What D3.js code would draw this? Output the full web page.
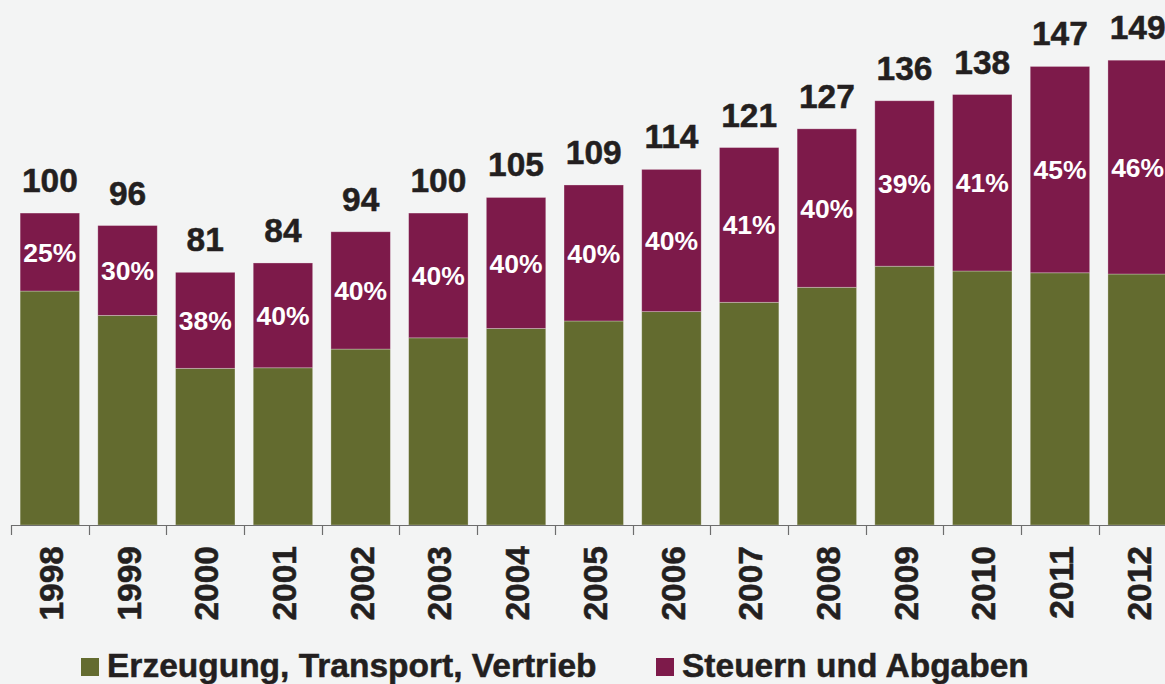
<!DOCTYPE html>
<html>
<head>
<meta charset="utf-8">
<script src="https://cdn.jsdelivr.net/npm/d3@7.9.0/dist/d3.min.js"></script>
<style>
  html, body { margin: 0; padding: 0; background: #f3f4f4; }
  svg { display: block; font-family: "Liberation Sans", Arial, sans-serif; }
</style>
</head>
<body>
<svg id="chart" width="1165" height="684"></svg>
<script>
const years = ["1998", "1999", "2000", "2001", "2002", "2003", "2004", "2005",
  "2006", "2007", "2008", "2009", "2010", "2011", "2012"];
const totals = [100, 96, 81, 84, 94, 100, 105, 109, 114, 121, 127, 136, 138, 147, 149];
const taxShare = [25, 30, 38, 40, 40, 40, 40, 40, 40, 41, 40, 39, 41, 45, 46];
const seriesNames = ["Erzeugung, Transport, Vertrieb", "Steuern und Abgaben"];
const colors = ["#636b2f", "#7d1a4a"];

const rows = years.map((y, i) => {
  const tax = totals[i] * taxShare[i] / 100;
  return { year: y, total: totals[i], pct: taxShare[i], base: totals[i] - tax, tax: tax };
});

const svg = d3.select("#chart");
const baseY = 525;

const x = d3.scaleBand()
  .domain(years)
  .range([11, 11 + 77.7 * years.length])
  .paddingInner(0.235)
  .paddingOuter(0.1175);

const y = d3.scaleLinear().domain([0, 168.3]).range([baseY, 0]);

const layers = d3.stack().keys(["base", "tax"])(rows);

svg.append("g")
  .selectAll("g")
  .data(layers)
  .join("g")
  .attr("fill", (d, i) => colors[i])
  .selectAll("rect")
  .data(d => d)
  .join("rect")
  .attr("x", d => x(d.data.year))
  .attr("width", x.bandwidth())
  .attr("y", d => y(d[1]))
  .attr("height", d => y(d[0]) - y(d[1]))
  .attr("stroke", "rgba(255,255,255,0.35)")
  .attr("stroke-width", 0.8);

// axis line + ticks between categories
const axis = svg.append("g").attr("stroke", "#6d6d6d").attr("stroke-width", 1.2);
axis.append("line")
  .attr("x1", 11).attr("x2", 1165)
  .attr("y1", baseY + 0.5).attr("y2", baseY + 0.5);
axis.selectAll("line.tick")
  .data(years)
  .join("line")
  .attr("class", "tick")
  .attr("x1", d => Math.round(x(d) - x.step() * x.paddingOuter()) + 0.5)
  .attr("x2", d => Math.round(x(d) - x.step() * x.paddingOuter()) + 0.5)
  .attr("y1", baseY)
  .attr("y2", baseY + 10);

const dark = "#231f20";

// year labels
svg.append("g")
  .selectAll("text")
  .data(years)
  .join("text")
  .attr("transform", d => `translate(${x(d) + x.bandwidth() / 2 + 1},546) rotate(-90)`)
  .attr("text-anchor", "end")
  .attr("dy", "0.36em")
  .attr("font-size", 33.5)
  .attr("font-weight", "bold")
  .attr("fill", dark)
  .attr("stroke", dark).attr("stroke-width", 0.5)
  .text(d => d);

// totals
svg.append("g")
  .selectAll("text")
  .data(rows)
  .join("text")
  .attr("x", d => x(d.year) + x.bandwidth() / 2)
  .attr("y", d => y(d.total) - 21)
  .attr("text-anchor", "middle")
  .attr("font-size", 33.5)
  .attr("font-weight", "bold")
  .attr("fill", dark)
  .attr("stroke", dark).attr("stroke-width", 0.5)
  .text(d => d.total);

// percent labels in the tax segment
svg.append("g")
  .selectAll("text")
  .data(rows)
  .join("text")
  .attr("x", d => x(d.year) + x.bandwidth() / 2)
  .attr("y", d => (y(d.total) + y(d.base)) / 2)
  .attr("dy", "0.36em")
  .attr("text-anchor", "middle")
  .attr("font-size", 26.5)
  .attr("font-weight", "bold")
  .attr("fill", "#ffffff")
  .text(d => d.pct + "%");

// legend
const legendX = [81, 656];
const legend = svg.append("g")
  .selectAll("g")
  .data(seriesNames)
  .join("g")
  .attr("transform", (d, i) => `translate(${legendX[i]},658)`);
legend.append("rect")
  .attr("width", 18).attr("height", 18)
  .attr("fill", (d, i) => colors[i]);
legend.append("text")
  .attr("x", 26).attr("y", 19)
  .attr("font-size", 33.5)
  .attr("font-weight", "bold")
  .attr("fill", dark)
  .attr("stroke", dark).attr("stroke-width", 0.5)
  .text(d => d);
</script>
</body>
</html>
